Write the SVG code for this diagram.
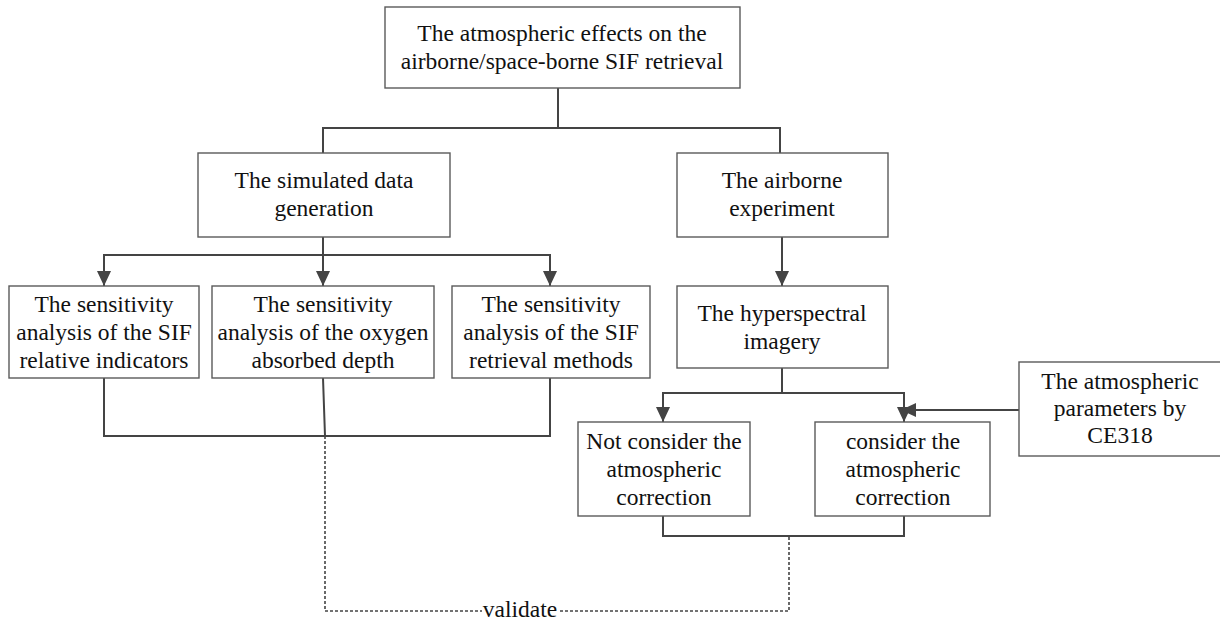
<svg xmlns="http://www.w3.org/2000/svg" width="1220" height="622" viewBox="0 0 1220 622">
<style>
.box{fill:#fff;stroke:#5a5a5a;stroke-width:1.4}
.t{font-family:"Liberation Serif","Times New Roman",serif;font-size:23.5px;fill:#111;text-anchor:middle}
.c{fill:none;stroke:#444;stroke-width:2}
.d{fill:none;stroke:#444;stroke-width:1.6;stroke-dasharray:3 2}
</style>
<defs>
<marker id="ah" markerUnits="userSpaceOnUse" markerWidth="15" markerHeight="15" viewBox="0 0 15 15" refX="15" refY="7.5" orient="auto">
<path d="M0,0.5 L15,7.5 L0,14.5 Z" fill="#444"/>
</marker>
</defs>
<rect width="1220" height="622" fill="#fff"/>
<g id="connectors">
<path class="c" d="M558 88 V128 M323 153 V128 H780 V153"/>
<path class="c" d="M323 237 V255 H104 V286" marker-end="url(#ah)"/>
<path class="c" d="M323 255 H550 V286" marker-end="url(#ah)"/>
<path class="c" d="M323 237 V286" marker-end="url(#ah)"/>
<path class="c" d="M782 237 V286" marker-end="url(#ah)"/>
<path class="c" d="M782 368 V393 H663 V422" marker-end="url(#ah)"/>
<path class="c" d="M782 393 H904 V422" marker-end="url(#ah)"/>
<path class="c" d="M1019 410 H901" marker-end="url(#ah)"/>
<path class="c" d="M104 378 V436 H550 V378 M323 378 L325 436"/>
<path class="c" d="M663 516 V536 H904 V516"/>
<path class="d" d="M325 436 V611 H789 V536"/>
<rect x="482" y="600" width="76" height="22" fill="#fff"/>
<text class="t" x="520" y="617">validate</text>
</g>
<g id="n_top">
<rect class="box" x="385" y="7" width="355" height="81"/>
<text class="t" x="562" y="41">The atmospheric effects on the</text>
<text class="t" x="562" y="69">airborne/space-borne SIF retrieval</text>
</g>
<g id="n_sim">
<rect class="box" x="198" y="153" width="252" height="84"/>
<text class="t" x="324" y="188">The simulated data</text>
<text class="t" x="324" y="216">generation</text>
</g>
<g id="n_air">
<rect class="box" x="677" y="153" width="211" height="84"/>
<text class="t" x="782" y="188">The airborne</text>
<text class="t" x="782" y="216">experiment</text>
</g>
<g id="n_s1">
<rect class="box" x="9" y="286" width="190" height="92"/>
<text class="t" x="104" y="312">The sensitivity</text>
<text class="t" x="104" y="340">analysis of the SIF</text>
<text class="t" x="104" y="368">relative indicators</text>
</g>
<g id="n_s2">
<rect class="box" x="212" y="286" width="222" height="92"/>
<text class="t" x="323" y="312">The sensitivity</text>
<text class="t" x="323" y="340">analysis of the oxygen</text>
<text class="t" x="323" y="368">absorbed depth</text>
</g>
<g id="n_s3">
<rect class="box" x="452" y="286" width="198" height="92"/>
<text class="t" x="551" y="312">The sensitivity</text>
<text class="t" x="551" y="340">analysis of the SIF</text>
<text class="t" x="551" y="368">retrieval methods</text>
</g>
<g id="n_hyp">
<rect class="box" x="677" y="286" width="211" height="82"/>
<text class="t" x="782" y="321">The hyperspectral</text>
<text class="t" x="782" y="349">imagery</text>
</g>
<g id="n_ce318">
<rect class="box" x="1019" y="362" width="204" height="94"/>
<text class="t" x="1120" y="389">The atmospheric</text>
<text class="t" x="1120" y="416">parameters by</text>
<text class="t" x="1120" y="443">CE318</text>
</g>
<g id="n_notc">
<rect class="box" x="578" y="422" width="172" height="94"/>
<text class="t" x="664" y="449">Not consider the</text>
<text class="t" x="664" y="477">atmospheric</text>
<text class="t" x="664" y="505">correction</text>
</g>
<g id="n_con">
<rect class="box" x="815" y="422" width="175" height="94"/>
<text class="t" x="903" y="449">consider the</text>
<text class="t" x="903" y="477">atmospheric</text>
<text class="t" x="903" y="505">correction</text>
</g>
</svg>
